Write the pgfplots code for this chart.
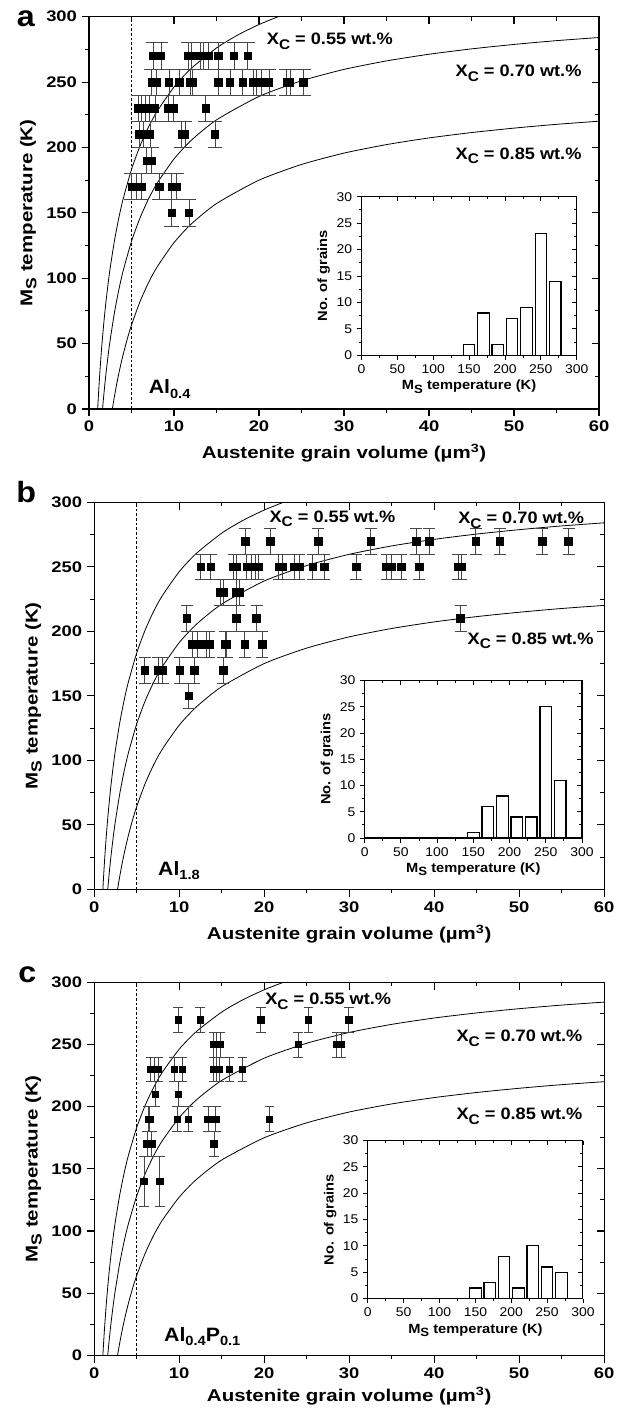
\documentclass[border=0pt]{standalone}
\usepackage{fontspec}
\setmainfont{Liberation Sans}[FakeStretch=1.2]
\newfontfamily\nfont{Liberation Sans}[FakeStretch=1.1]
\usepackage{pgfplots}
\pgfplotsset{compat=1.18}

\newcommand\subC{\raisebox{-3.4pt}{\fontsize{10.5}{10.5}\selectfont C}}
\newcommand\lab[1]{X\subC{} = #1 wt.\%}
\newcommand\alsub[1]{\raisebox{-3.6pt}{\fontsize{10}{10}\selectfont #1}}

\pgfplotsset{
  mainaxis/.style={
    scale only axis, width=382.5pt,
    xmin=0, xmax=60, ymin=0, ymax=300,
    xtick={0,10,...,60}, ytick={0,50,...,300},
    minor x tick num=1, minor y tick num=1,
    axis line style={line width=1pt},
    tick style={black, line width=0.8pt},
    major tick length=5.5pt, minor tick length=3pt,
    clip mode=individual,
  },
  mainlower/.style={mainaxis, xtick pos=left, ytick pos=left, tick align=outside,
    /pgf/number format/assume math mode=true,
    ticklabel style={font=\fontsize{11.5}{11.5}\selectfont\bfseries},
    label style={font=\fontsize{12.8}{12.8}\selectfont\bfseries},
    xlabel={Austenite grain volume (µm\textsuperscript{3})},
    ylabel={M\raisebox{-3pt}{\fontsize{11}{11}\selectfont S} temperature (K)},
    ylabel style={at={(axis description cs:-0.119,0.5)}, anchor=center},
  },
  mainupper/.style={mainaxis, xtick pos=right, ytick pos=right, tick align=inside,
    xticklabels={}, yticklabels={}},
  insetaxis/.style={scale only axis,
    xmin=0, xmax=300, ymin=0, ymax=30,
    xtick={0,50,...,300}, ytick={0,5,...,30},
    minor x tick num=1, minor y tick num=1,
    axis line style={line width=0.8pt},
    tick style={black, line width=0.6pt},
    major tick length=3.5pt, minor tick length=2pt,
  },
  insetlower/.style={insetaxis, xtick pos=left, ytick pos=left, tick align=outside,
    /pgf/number format/assume math mode=true,
    ticklabel style={font=\nfont\fontsize{9.5}{9.5}\selectfont},
    label style={font=\nfont\fontsize{10}{10}\selectfont\bfseries},
    xlabel={M\raisebox{-2.5pt}{\fontsize{9}{9}\selectfont S} temperature (K)},
    ylabel={No. of grains},
    xlabel style={yshift=2pt}, ylabel style={yshift=-2pt},
  },
  insetupper/.style={insetaxis, xtick pos=right, ytick pos=right, tick align=inside,
    xticklabels={}, yticklabels={}},
  bars/.style={ybar, bar width=16, fill=white, draw=black, line width=0.9pt},
  curve/.style={black, line width=0.6pt, smooth, tension=0.4},
  pts/.style n args={3}{only marks, mark=square*, mark size=#1, mark options={black},
    error bars/.cd, y dir=both, y fixed=#3,
    error bar style={line width=0.6pt, gray!55!black},
    error mark options={line width=0.6pt, gray!55!black, mark size=#2, rotate=90},
    /pgfplots/.cd},
}

\newcommand\curves{%
  \addplot[black, line width=0.5pt, dash pattern=on 2pt off 1.5pt] coordinates {(5,0) (5,300)};
  \addplot[curve] coordinates {(1.0,-2.5)(1.1,9.4)(1.2,20.2)(1.3,30.1)(1.4,39.3)(1.5,47.7)(1.6,55.5)(1.75,66.3)(1.9,76.2)(2,82.2)(2.25,96.1)(2.5,108.2)(3,128.9)(3.5,145.9)(4,160.2)(5,183.2)(6,201.1)(7,215.6)(8,227.5)(10,246.2)(12,260.3)(15,276.1)(17.5,286.0)(20,294.0)(22.5,300.6)(25,306.0)};
  \addplot[curve] coordinates {(1.5,-7.3)(1.6,0.5)(1.75,11.3)(1.9,21.2)(2,27.2)(2.25,41.1)(2.5,53.2)(3,73.9)(3.5,90.9)(4,105.2)(5,128.2)(6,146.1)(7,160.6)(8,172.5)(10,191.2)(12,205.3)(15,221.1)(20,239.0)(25,251.0)(30,259.7)(35,266.2)(40,271.3)(45,275.4)(50,278.8)(55,281.7)(60,284.1)};
  \addplot[curve] coordinates {(2.5,-10.8)(2.75,0.1)(3,9.9)(3.25,18.8)(3.5,26.9)(3.75,34.3)(4,41.2)(4.5,53.5)(5,64.2)(6,82.1)(7,96.6)(8,108.5)(10,127.2)(12,141.3)(15,157.1)(20,175.0)(25,187.0)(30,195.7)(35,202.2)(40,207.3)(45,211.4)(50,214.8)(55,217.7)(60,220.1)};
}
\newcommand\curvelabel[2]{\node[anchor=base west, font=\nfont\fontsize{12.4}{12.4}\selectfont\bfseries, inner sep=0pt] at (#1) {#2};}
\newcommand\alnode[2]{\node[anchor=base west, inner sep=0pt, font=\nfont\fontsize{14.5}{14.5}\selectfont\bfseries] at (#1) {#2};}

\begin{document}
\begin{tikzpicture}
\useasboundingbox (0,0) rectangle (465pt,1062pt);

% ---------------- panel a ----------------
\node[anchor=base west, inner sep=0pt, font=\nfont\fontsize{22}{22}\selectfont\bfseries] at (12.5pt,1041.75pt) {a};
\begin{axis}[mainlower, at={(66.75pt,755.25pt)}, anchor=south west, height=294.2pt,
  xlabel style={at={(axis description cs:0.5,-0.112)}, anchor=center}]
  \curves
  \addplot[pts={2.8pt}{5.5pt}{10}] coordinates {
    (7.56,270)(8.47,270)(11.68,270)(12.08,270)(13.06,270)(13.45,270)(14.04,270)(15.21,270)(17.06,270)(18.67,270)
    (7.38,250)(7.96,250)(9.41,250)(10.62,250)(11.88,250)(12.15,250)(15.21,250)(16.59,250)(18.08,250)(19.33,250)(19.73,250)(20.32,250)(21.18,250)(23.26,250)(23.65,250)(25.21,250)
    (5.8,230)(6.2,230)(6.59,230)(7.09,230)(7.76,230)(9.33,230)(9.92,230)(13.73,230)
    (5.92,210)(6.39,210)(7.18,210)(10.91,210)(11.29,210)(14.82,210)
    (6.79,190)(7.38,190)
    (5.02,170)(5.61,170)(6.2,170)(8.24,170)(9.73,170)(10.32,170)
    (9.73,150)(11.76,150)};
  \curvelabel{axis cs:20.9,278.5}{\lab{0.55}}
  \curvelabel{axis cs:43.1,254.3}{\lab{0.70}}
  \curvelabel{axis cs:43.1,191.1}{\lab{0.85}}
  \alnode{axis cs:7.0,12}{Al\alsub{0.4}}
\end{axis}
\begin{axis}[mainupper, at={(66.75pt,755.25pt)}, anchor=south west, height=294.2pt]
\end{axis}
\begin{axis}[insetlower, at={(271.05pt,795.5pt)}, anchor=south west, width=161.5pt, height=119pt]
  \addplot[bars] coordinates {(150,2)(170,8)(190,2)(210,7)(230,9)(250,23)(270,14)};
\end{axis}
\begin{axis}[insetupper, at={(271.05pt,795.5pt)}, anchor=south west, width=161.5pt, height=119pt]
\end{axis}

% ---------------- panel b ----------------
\node[anchor=base west, inner sep=0pt, font=\nfont\fontsize{22}{22}\selectfont\bfseries] at (12pt,684.75pt) {b};
\begin{axis}[mainlower, at={(70.65pt,395pt)}, anchor=south west, height=290.25pt,
  xlabel style={at={(axis description cs:0.5,-0.116)}, anchor=center}]
  \curves
  \addplot[pts={2.9pt}{4.5pt}{10}] coordinates {
    (17.75,270)(20.68,270)(26.37,270)(32.53,270)(37.9,270)(39.4,270)(44.9,270)(47.7,270)(52.7,270)(55.8,270)
    (12.55,250)(13.7,250)(16.4,250)(16.75,250)(17.95,250)(18.5,250)(19.0,250)(19.3,250)(21.7,250)(22.1,250)(23.5,250)(24.15,250)(25.7,250)(27.05,250)(30.8,250)(34.4,250)(35.0,250)(36.1,250)(38.2,250)(42.8,250)(43.2,250)
    (14.8,230)(15.25,230)(16.75,230)(17.05,230)
    (10.9,210)(16.7,210)(19.1,210)(43.1,210)
    (11.5,190)(12.1,190)(13.15,190)(13.55,190)(15.4,190)(15.6,190)(17.7,190)(19.75,190)
    (5.96,170)(7.52,170)(8.05,170)(10.08,170)(11.78,170)(15.2,170)
    (11.14,150)};
  \curvelabel{axis cs:20.6,284.5}{\lab{0.55}}
  \curvelabel{axis cs:42.8,283.5}{\lab{0.70}}
  \curvelabel{axis cs:43.9,190.1}{\lab{0.85}}
  \alnode{axis cs:7.5,11}{Al\alsub{1.8}}
\end{axis}
\begin{axis}[mainupper, at={(70.65pt,395pt)}, anchor=south west, height=290.25pt]
\end{axis}
\begin{axis}[insetlower, at={(273.5pt,433.5pt)}, anchor=south west, width=163pt, height=118.2pt]
  \addplot[bars] coordinates {(150,1)(170,6)(190,8)(210,4)(230,4)(250,25)(270,11)};
\end{axis}
\begin{axis}[insetupper, at={(273.5pt,433.5pt)}, anchor=south west, width=163pt, height=118.2pt]
\end{axis}

% ---------------- panel c ----------------
\node[anchor=base west, inner sep=0pt, font=\nfont\fontsize{22}{22}\selectfont\bfseries] at (13.5pt,324.75pt) {c};
\begin{axis}[mainlower, at={(70.65pt,45.5pt)}, anchor=south west, height=279.75pt,
  xlabel style={at={(axis description cs:0.5,-0.109)}, anchor=center}]
  \curves
  \addplot[pts={2.4pt}{3.6pt}{10}] coordinates {
    (9.87,270)(12.45,270)(19.6,270)(25.2,270)(29.95,270)
    (14.05,250)(14.4,250)(14.8,250)(24.0,250)(28.5,250)(29.05,250)
    (6.62,230)(7.08,230)(7.52,230)(9.4,230)(10.33,230)(14.07,230)(14.4,230)(14.73,230)(15.9,230)(17.44,230)
    (7.17,210)(9.87,210)
    (6.35,190)(6.55,190)(9.75,190)(11.06,190)(13.38,190)(14.3,190)(20.6,190)
    (6.2,170)(6.78,170)(14.09,170)};
  \addplot[pts={2.4pt}{3.6pt}{20}] coordinates {(5.85,140)(7.72,140)};
  \curvelabel{axis cs:20.1,282}{\lab{0.55}}
  \curvelabel{axis cs:42.6,252.3}{\lab{0.70}}
  \curvelabel{axis cs:42.6,189.5}{\lab{0.85}}
  \alnode{axis cs:8.2,11.5}{Al\alsub{0.4}P\alsub{0.1}}
\end{axis}
\begin{axis}[mainupper, at={(70.65pt,45.5pt)}, anchor=south west, height=279.75pt]
\end{axis}
\begin{axis}[insetlower, at={(275.9pt,88.1pt)}, anchor=south west, width=161.3pt, height=118.5pt]
  \addplot[bars] coordinates {(150,2)(170,3)(190,8)(210,2)(230,10)(250,6)(270,5)};
\end{axis}
\begin{axis}[insetupper, at={(275.9pt,88.1pt)}, anchor=south west, width=161.3pt, height=118.5pt]
\end{axis}
\end{tikzpicture}
\end{document}
